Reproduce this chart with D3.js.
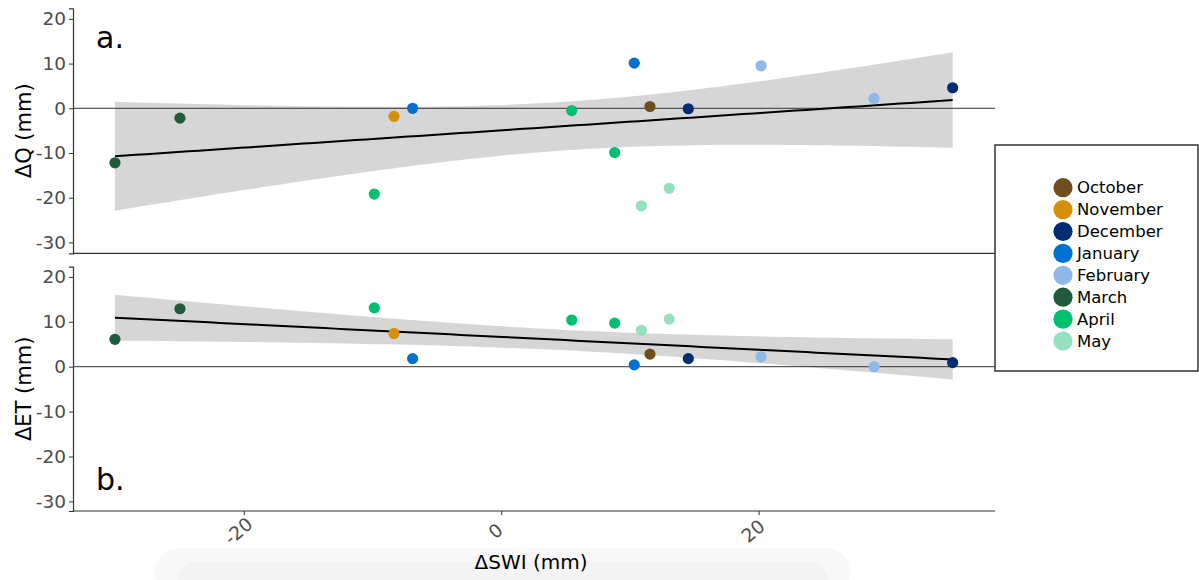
<!DOCTYPE html>
<html>
<head>
<meta charset="utf-8">
<script src="https://cdn.jsdelivr.net/npm/d3@7"></script>
<style>
  html, body { margin: 0; padding: 0; background: #fff; }
  svg { display: block; font-family: "DejaVu Sans", Verdana, sans-serif; }
</style>
</head>
<body>
<svg id="chart" width="1199" height="580"></svg>
<script>
// ---- data ----
const months = ["October","November","December","January","February","March","April","May"];
const monthColors = ["#6E4D1E","#D4900A","#002D72","#0071CE","#8DB8E8","#205C3B","#00BF6F","#95E1BF"];
const pointMonth = ["March","March","April","November","January","April","April","January","May","October","May","December","February","February","December"];
const dSWI = [-30.05,-25.0,-9.9,-8.37,-6.92,5.44,8.78,10.30,10.85,11.52,13.02,14.50,20.15,28.93,35.04];
const dQ   = [-12.2,-2.2,-19.2,-1.8,0.0,-0.5,-9.9,10.1,-21.8,0.4,-17.9,-0.1,9.5,2.2,4.6];
const dET  = [6.1,12.9,13.1,7.4,1.8,10.4,9.7,0.4,8.1,2.8,10.6,1.8,2.2,0.0,0.9];
const yTicks = [20,10,0,-10,-20,-30];
const xTicks = [-20,0,20];
const T975 = 2.1604; // t quantile, df = n - 2 = 13

const fmt = v => String(v);
const svg = d3.select("#chart");
const color = d3.scaleOrdinal().domain(months).range(monthColors);

const x = d3.scaleLinear().domain([-33.31, 38.33]).range([73, 995]);
const yTop = d3.scaleLinear().domain([-32.44, 22.37]).range([253.3, 8.3]);
const yBot = d3.scaleLinear().domain([-32.14, 22.27]).range([511, 266.7]);

// faint shadow behind x title
svg.append("rect").attr("x",155).attr("y",548).attr("width",695).attr("height",50)
  .attr("rx",24).attr("fill","#f8f8f8");
svg.append("rect").attr("x",178).attr("y",562).attr("width",650).attr("height",40)
  .attr("rx",18).attr("fill","#f3f3f3");

function fit(xs, ys) {
  const n = xs.length;
  const mx = d3.mean(xs), my = d3.mean(ys);
  let sxx = 0, sxy = 0;
  xs.forEach((v,i) => { sxx += (v-mx)*(v-mx); sxy += (v-mx)*(ys[i]-my); });
  const b = sxy / sxx, a = my - b*mx;
  let sse = 0;
  xs.forEach((v,i) => { const r = ys[i] - (a + b*v); sse += r*r; });
  const s = Math.sqrt(sse / (n-2));
  const x0 = d3.min(xs), x1 = d3.max(xs);
  return d3.range(0, 81).map(k => {
    const xv = x0 + (x1-x0)*k/80;
    const yh = a + b*xv;
    const se = s*Math.sqrt(1/n + (xv-mx)*(xv-mx)/sxx);
    return {x: xv, y: yh, lo: yh - T975*se, hi: yh + T975*se};
  });
}

function panel(y, vals, title, label, labelY) {
  const g = svg.append("g");
  const pts = fit(dSWI, vals);
  g.append("path").datum(pts)
    .attr("d", d3.area().x(d => x(d.x)).y0(d => y(d.lo)).y1(d => y(d.hi)))
    .attr("fill", "#999999").attr("fill-opacity", 0.4);
  g.append("line").attr("x1", x.range()[0]).attr("x2", x.range()[1])
    .attr("y1", y(0)).attr("y2", y(0)).attr("stroke", "#333").attr("stroke-width", 1);
  g.append("path").datum(pts)
    .attr("d", d3.line().x(d => x(d.x)).y(d => y(d.y)))
    .attr("fill", "none").attr("stroke", "#000").attr("stroke-width", 2);
  g.selectAll("circle.pt").data(dSWI).enter().append("circle")
    .attr("class","pt")
    .attr("cx", d => x(d)).attr("cy", (d,i) => y(vals[i])).attr("r", 5.6)
    .attr("fill", (d,i) => color(pointMonth[i]));
  // y axis
  const ya = g.append("g").attr("transform", `translate(${x.range()[0]},0)`)
    .call(d3.axisLeft(y).tickValues(yTicks).tickSize(4).tickPadding(3).tickFormat(fmt));
  ya.select(".domain").attr("stroke", "#333").attr("stroke-width", 1.2);
  ya.selectAll(".tick line").attr("stroke", "#333");
  ya.selectAll(".tick text").attr("fill", "#4d4d4d").attr("font-size", 18.5)
    .attr("font-family", "DejaVu Sans");
  // bottom border line
  g.append("line").attr("x1", x.range()[0]).attr("x2", x.range()[1])
    .attr("y1", y.range()[0]).attr("y2", y.range()[0])
    .attr("stroke", "#333").attr("stroke-width", 1.2);
  // y title
  const cy = (y.range()[0] + y.range()[1]) / 2;
  g.append("text").attr("transform", `translate(24,${cy}) rotate(-90)`)
    .attr("text-anchor", "middle").attr("dominant-baseline", "central")
    .attr("font-size", 21).attr("fill", "#000").text(title);
  // panel label
  g.append("text").attr("x", 96).attr("y", labelY)
    .attr("font-size", 30).attr("fill", "#000").text(label);
}

panel(yTop, dQ, "ΔQ (mm)", "a.", 48);
panel(yBot, dET, "ΔET (mm)", "b.", 490);

// x axis ticks and labels
const xa = svg.append("g");
xTicks.forEach(t => {
  xa.append("line").attr("x1", x(t)).attr("x2", x(t)).attr("y1", 511).attr("y2", 515)
    .attr("stroke", "#333");
  xa.append("text").attr("transform", `translate(${x(t) - 6},531) rotate(-40)`)
    .attr("text-anchor", "middle").attr("dominant-baseline", "central")
    .attr("font-size", 18.5).attr("fill", "#4d4d4d").text(fmt(t));
});
svg.append("text").attr("x", 531).attr("y", 569).attr("text-anchor", "middle")
  .attr("font-size", 20).attr("fill", "#000").text("ΔSWI (mm)");

// legend
const lg = svg.append("g");
lg.append("rect").attr("x", 995).attr("y", 145).attr("width", 203).attr("height", 226)
  .attr("fill", "#fff").attr("stroke", "#333").attr("stroke-width", 1.5);
months.forEach((m, i) => {
  const cy = 187.7 + i * 21.9;
  lg.append("circle").attr("cx", 1063).attr("cy", cy).attr("r", 9.6).attr("fill", color(m));
  lg.append("text").attr("x", 1077).attr("y", cy).attr("dominant-baseline", "central")
    .attr("font-size", 16.5).attr("fill", "#000").text(m);
});
</script>
</body>
</html>
